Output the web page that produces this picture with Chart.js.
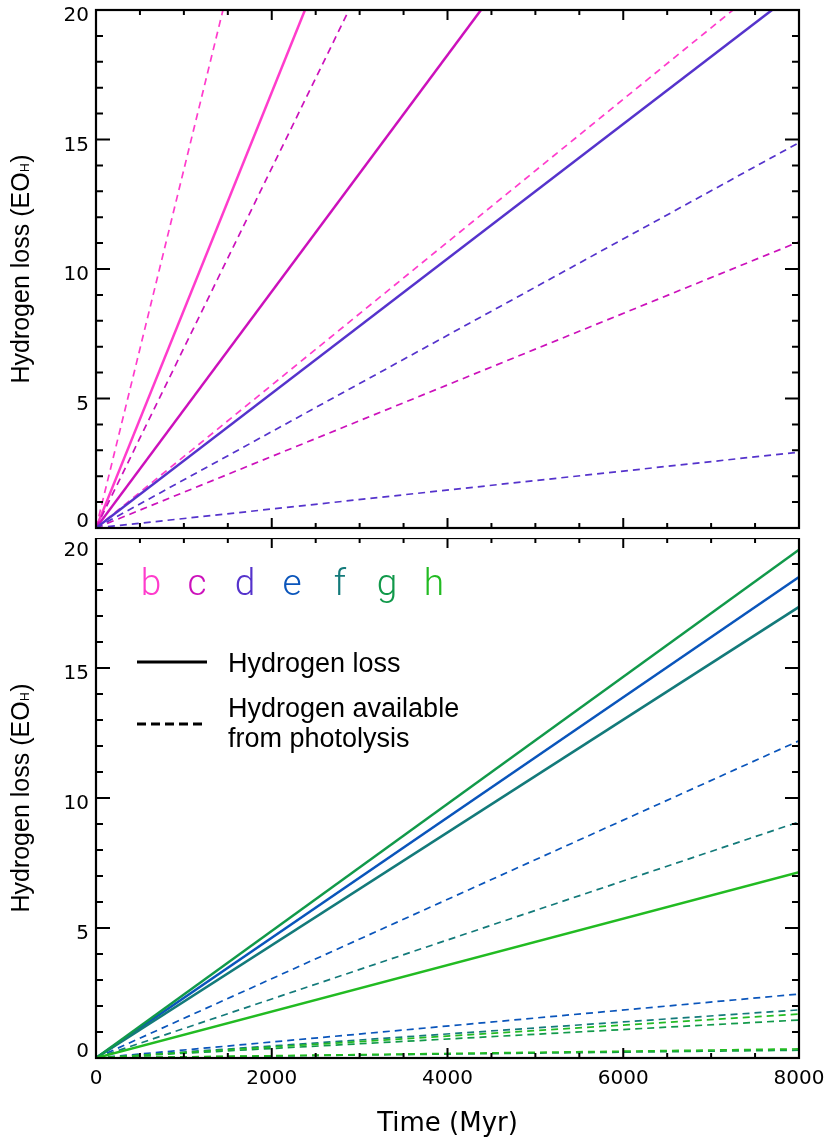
<!DOCTYPE html>
<html><head><meta charset="utf-8">
<script src="https://cdn.jsdelivr.net/npm/chart.js@4.4.1/dist/chart.umd.min.js"></script>
<style>
html,body{margin:0;padding:0;background:#fff;}
#wrap{position:relative;width:830px;height:1142px;}
canvas{position:absolute;left:0;}
#topC{top:0;} #botC{top:538px;}
</style></head><body>
<div id="wrap"><canvas id="topC" width="830" height="538"></canvas><canvas id="botC" width="830" height="604"></canvas></div>
<script>
// ---------------- data ----------------
const planets = ['b','c','d','e','f','g','h'];
const timeTicks = [0, 2000, 4000, 6000, 8000];          // Myr
const lossTicks = [0, 5, 10, 15, 20];                   // EO_H
// Solid lines: hydrogen loss, end point of each straight line from (0,0)
const lossEndTime  = [2378, 4381, 7693, 8000, 8000, 8000, 8000];
const lossEndValue = [20, 20, 20, 18.5, 17.35, 19.55, 7.15];
// Dashed lines: hydrogen available from photolysis (upper case)
const photoUpperEndTime  = [1445, 2879, 8000, 8000, 8000, 8000, 8000];
const photoUpperEndValue = [20, 20, 14.88, 12.2, 9.08, 1.46, 1.69];
// Dashed lines: hydrogen available from photolysis (lower case)
const photoLowerEndTime  = [7249, 8000, 8000, 8000, 8000, 8000, 8000];
const photoLowerEndValue = [20, 11.05, 2.93, 2.46, 1.85, 0.3, 0.35];
const topPlanets = ['b', 'c', 'd'];
const bottomPlanets = ['e', 'f', 'g', 'h'];
const planetColors = ['#ff3ccc', '#cc11bb', '#5533cc', '#0a55bb', '#137a7a', '#11994a', '#22bb22'];

// ---------------- helpers ----------------
function buildDatasets(list) {
  const ds = [];
  list.slice().reverse().forEach(p => {
    const i = planets.indexOf(p);
    const c = planetColors[i];
    ds.push({label: p + ' loss', data: [{x: 0, y: 0}, {x: lossEndTime[i], y: lossEndValue[i]}],
      borderColor: c, borderWidth: 2.5, pointRadius: 0, fill: false});
    ds.push({label: p + ' photolysis 1', data: [{x: 0, y: 0}, {x: photoUpperEndTime[i], y: photoUpperEndValue[i]}],
      borderColor: c, borderWidth: 1.7, borderDash: [7, 5], pointRadius: 0, fill: false});
    ds.push({label: p + ' photolysis 2', data: [{x: 0, y: 0}, {x: photoLowerEndTime[i], y: photoLowerEndValue[i]}],
      borderColor: c, borderWidth: 1.7, borderDash: [7, 5], pointRadius: 0, fill: false});
  });
  return ds;
}

const frameTicks = {
  id: 'frameTicks',
  afterDatasetsDraw(chart) {
    const {ctx, chartArea: a, scales: {x, y}} = chart;
    ctx.save();
    ctx.strokeStyle = '#000';
    ctx.lineWidth = 2;
    ctx.beginPath();
    for (let v = 0; v <= 20; v += 1) {
      const p = y.getPixelForValue(v);
      const L = v % 5 === 0 ? 14 : 7;
      ctx.moveTo(a.left, p); ctx.lineTo(a.left + L, p);
      ctx.moveTo(a.right, p); ctx.lineTo(a.right - L, p);
    }
    for (let v = 0; v <= 8000; v += 500) {
      const p = x.getPixelForValue(v);
      const L = v % 2000 === 0 ? 10 : 5;
      ctx.moveTo(p, a.bottom); ctx.lineTo(p, a.bottom - L);
      ctx.moveTo(p, a.top); ctx.lineTo(p, a.top + L);
    }
    ctx.stroke();
    ctx.lineWidth = 2.2;
    ctx.strokeRect(a.left, a.top, a.right - a.left, a.bottom - a.top);
    ctx.restore();
  }
};

const yTitle = {
  id: 'yTitle',
  afterDraw(chart) {
    const {ctx, chartArea: a} = chart;
    const cy = (a.top + a.bottom) / 2;
    const big = "25px 'Liberation Sans', Arial, sans-serif";
    const small = "12px 'Liberation Sans', Arial, sans-serif";
    const main = 'Hydrogen loss (EO', sub = 'H', end = ')';
    ctx.save();
    ctx.translate(29, cy);
    ctx.rotate(-Math.PI / 2);
    ctx.fillStyle = '#000';
    ctx.textBaseline = 'alphabetic';
    ctx.textAlign = 'left';
    ctx.font = big; const w1 = ctx.measureText(main).width; const w3 = ctx.measureText(end).width;
    ctx.font = small; const w2 = ctx.measureText(sub).width + 1;
    const x0 = -(w1 + w2 + w3) / 2;
    ctx.font = big; ctx.fillText(main, x0, 0);
    ctx.font = small; ctx.fillText(sub, x0 + w1 + 0.5, 0);
    ctx.font = big; ctx.fillText(end, x0 + w1 + w2, 0);
    ctx.restore();
  }
};

const legendPlug = {
  id: 'legendPlug',
  afterDraw(chart) {
    const ctx = chart.ctx;
    const xs = [151, 197, 245, 292, 340, 387, 434];
    ctx.save();
    ctx.textAlign = 'center';
    ctx.textBaseline = 'alphabetic';
    ctx.font = "300 37px Roboto, 'Liberation Sans', sans-serif";
    planets.forEach((p, i) => {
      ctx.fillStyle = planetColors[i];
      ctx.fillText(p, xs[i], 57);
    });
    ctx.strokeStyle = '#000';
    ctx.lineWidth = 3;
    ctx.beginPath(); ctx.moveTo(137, 124); ctx.lineTo(207, 124); ctx.stroke();
    ctx.setLineDash([9, 5]);
    ctx.beginPath(); ctx.moveTo(137, 186); ctx.lineTo(207, 186); ctx.stroke();
    ctx.setLineDash([]);
    ctx.fillStyle = '#000';
    ctx.textAlign = 'left';
    ctx.font = "27px 'Liberation Sans', Arial, sans-serif";
    ctx.fillText('Hydrogen loss', 228, 134);
    ctx.fillText('Hydrogen available', 228, 179);
    ctx.fillText('from photolysis', 228, 209);
    ctx.restore();
  }
};

const tickFontFamily = "'DejaVu Sans', Verdana, sans-serif";

function yScaleWithZero(isBottom) {
  return {
    type: 'linear', min: 0, max: 20,
    afterBuildTicks: s => { s.ticks = lossTicks.map(v => ({value: v})); },
    afterFit: s => { s.width = 96; s.paddingTop = 0; s.paddingBottom = 0; },
    grid: {display: false, drawTicks: false},
    border: {display: false},
    ticks: {
      padding: 7, color: '#000', labelOffset: 6,
      callback: v => {
        if (v === 0) return ['0', ''];
        if (isBottom && v === 20) return ['', '20'];
        return String(v);
      },
      font: ctx => {
        const v = ctx.tick ? ctx.tick.value : null;
        const lh = (isBottom && v === 20) ? 0.7 : 1.2;
        return {family: tickFontFamily, size: 20, lineHeight: lh};
      }
    }
  };
}

new Chart(document.getElementById('topC'), {
  type: 'line',
  data: {datasets: buildDatasets(topPlanets)},
  options: {
    responsive: false, animation: false, devicePixelRatio: 1,
    layout: {padding: {top: 10, right: 31, bottom: 10, left: 0}},
    plugins: {legend: {display: false}, tooltip: {enabled: false}},
    scales: {
      x: {type: 'linear', min: 0, max: 8000, display: false},
      y: yScaleWithZero(false)
    }
  },
  plugins: [frameTicks, yTitle]
});

new Chart(document.getElementById('botC'), {
  type: 'line',
  data: {datasets: buildDatasets(bottomPlanets)},
  options: {
    responsive: false, animation: false, devicePixelRatio: 1,
    layout: {padding: {top: 0, right: 31, bottom: 0, left: 0}},
    plugins: {legend: {display: false}, tooltip: {enabled: false}},
    scales: {
      x: {
        type: 'linear', min: 0, max: 8000,
        afterBuildTicks: s => { s.ticks = timeTicks.map(v => ({value: v})); },
        afterFit: s => { s.height = 84; s.paddingLeft = 0; s.paddingRight = 0; },
        grid: {display: false, drawTicks: false},
        border: {display: false},
        ticks: {padding: 9, color: '#000', maxRotation: 0, autoSkip: false,
          font: {family: tickFontFamily, size: 20}, callback: v => String(v)},
        title: {display: true, text: 'Time (Myr)', color: '#000',
          font: {family: tickFontFamily, size: 26}, padding: {top: 0, bottom: 2}}
      },
      y: yScaleWithZero(true)
    }
  },
  plugins: [frameTicks, yTitle, legendPlug]
});
</script>
</body></html>
